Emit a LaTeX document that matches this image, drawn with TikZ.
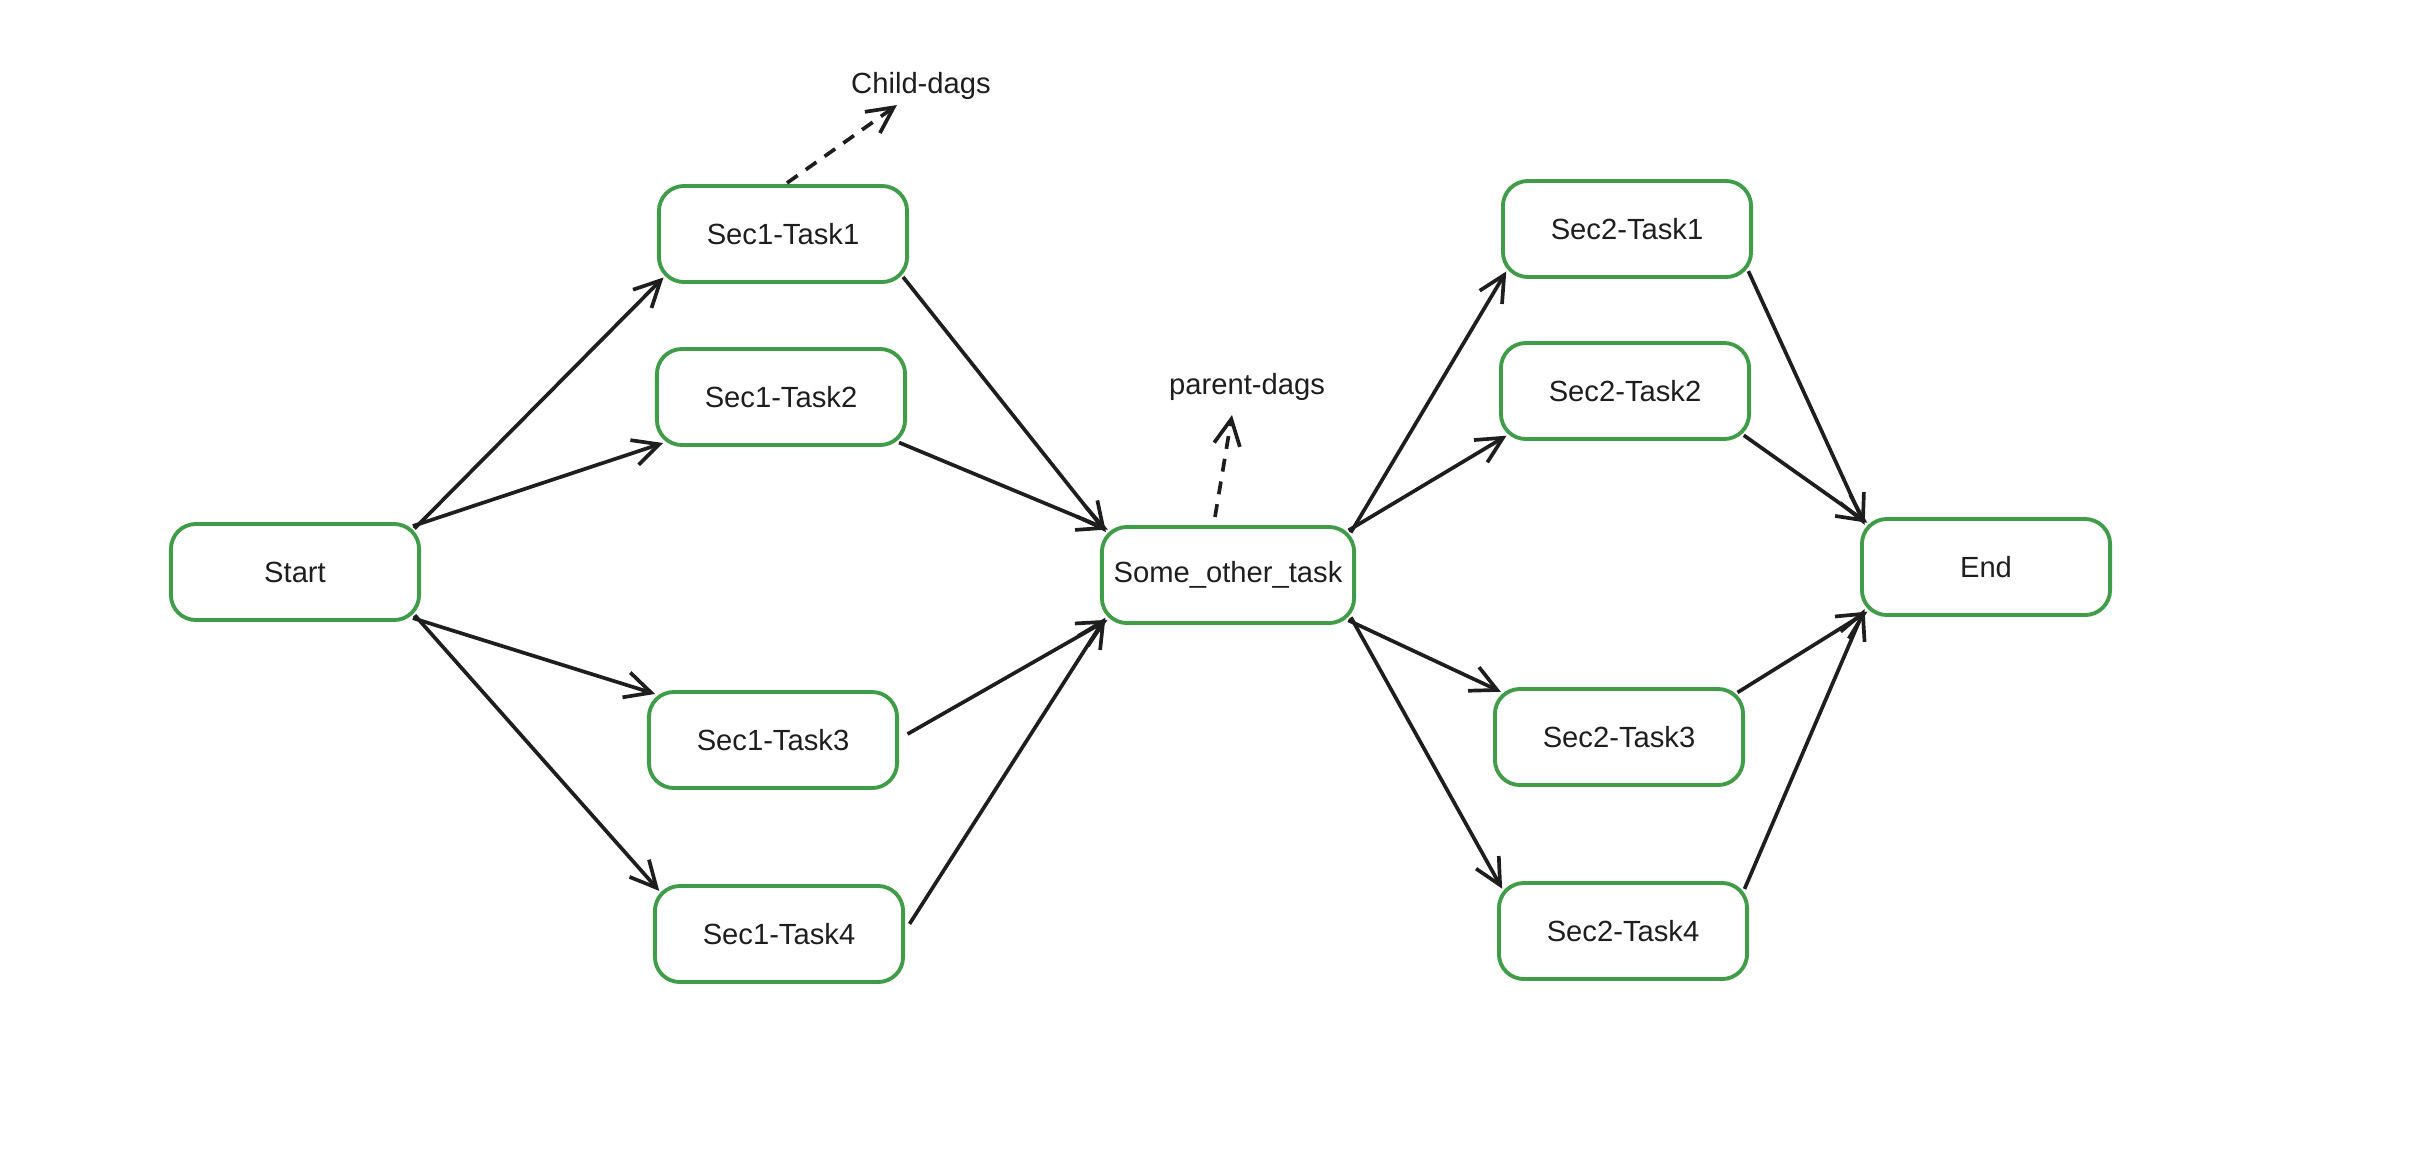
\documentclass[tikz,border=0pt]{standalone}
\usepackage{fontspec}
\setmainfont{Liberation Sans}
\usetikzlibrary{arrows.meta,positioning}
\definecolor{taskgreen}{RGB}{64,156,72}
\definecolor{inkblack}{RGB}{30,30,30}

\begin{document}
\begin{tikzpicture}[x=0.01cm,y=-0.01cm,
  every node/.style={font=\fontsize{8.3}{10}\selectfont,text=inkblack},
  task/.style={draw=taskgreen,line width=1.1pt,rounded corners=0.25cm,minimum width=2.48cm,minimum height=0.96cm,outer sep=0pt},
  flow/.style={-{Straight Barb[length=0.26cm,width=0.26cm]},line width=1.05pt,inkblack,shorten >=-0.065cm,shorten <=-0.065cm},
  hint/.style={flow,dash pattern=on 0.13cm off 0.1cm,shorten <=0pt,shorten >=0pt}]
  \useasboundingbox (0,0) rectangle (2432,1162);
  % Start and end
  \node[task] (start) at (295,572) {Start};
  \node[task] (stop) at (1986,567) {End};
  % Section 1
  \node[task] (s1t1) at (783,234) {Sec1-Task1};
  \node[task] (s1t2) at (781,397) {Sec1-Task2};
  \node[task] (s1t3) at (773,740) {Sec1-Task3};
  \node[task] (s1t4) at (779,934) {Sec1-Task4};
  % Middle
  \node[task] (other) at (1228,575) {Some\_other\_task};
  % Section 2
  \node[task] (s2t1) at (1627,229) {Sec2-Task1};
  \node[task] (s2t2) at (1625,391) {Sec2-Task2};
  \node[task] (s2t3) at (1619,737) {Sec2-Task3};
  \node[task] (s2t4) at (1623,931) {Sec2-Task4};
  % Notes
  \node (child) at (921,86) {Child-dags};
  \node (parent) at (1247,387) {parent-dags};
  \coordinate (childtip) at (897,105);
  \coordinate (parenttip) at (1232,415);
  % Fan out from start
  \draw[flow] (start.north east) -- (s1t1.south west);
  \draw[flow] (start.north east) -- (s1t2.south west);
  \draw[flow] (start.south east) -- (s1t3.north west);
  \draw[flow] (start.south east) -- (s1t4.north west);
  % Section 1 into middle
  \draw[flow] (s1t1.south east) -- (other.north west);
  \draw[flow] (s1t2.south east) -- (other.north west);
  \draw[flow,shorten <=0.12cm] (s1t3.east) -- (other.south west);
  \draw[flow,shorten <=0.12cm] (s1t4.east) -- (other.south west);
  % Middle out to section 2
  \draw[flow] (other.north east) -- (s2t1.south west);
  \draw[flow] (other.north east) -- (s2t2.south west);
  \draw[flow] (other.south east) -- (s2t3.north west);
  \draw[flow] (other.south east) -- (s2t4.north west);
  % Section 2 into end
  \draw[flow] (s2t1.south east) -- (stop.north west);
  \draw[flow] (s2t2.south east) -- (stop.north west);
  \draw[flow] (s2t3.north east) -- (stop.south west);
  \draw[flow] (s2t4.north east) -- (stop.south west);
  % Dashed hints
  \draw[hint] ([xshift=0.04cm,yshift=0.03cm]s1t1.north) -- (childtip);
  \draw[hint] ([xshift=-0.13cm,yshift=0.1cm]other.north) -- (parenttip);
\end{tikzpicture}
\end{document}
